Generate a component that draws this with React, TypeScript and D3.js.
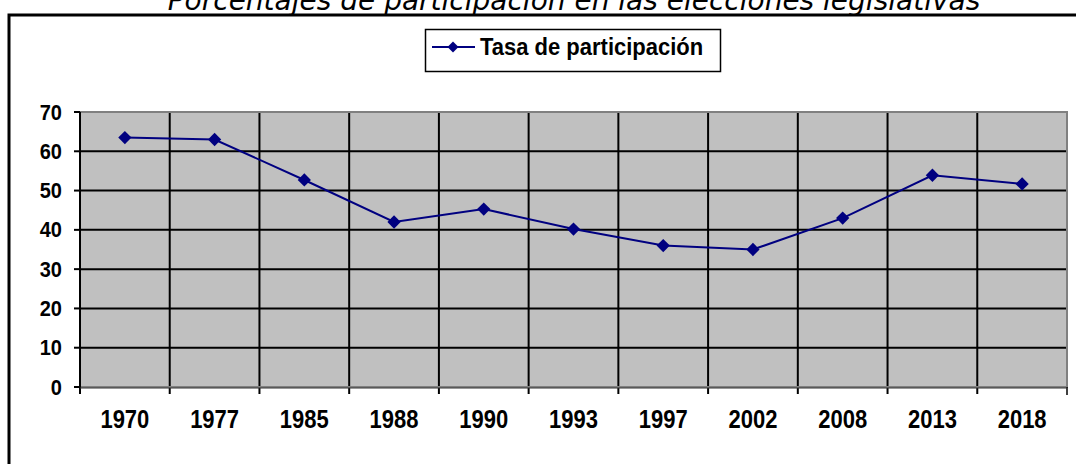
import React from 'react';
import * as d3 from 'd3';

const years = ['1970', '1977', '1985', '1988', '1990', '1993', '1997', '2002', '2008', '2013', '2018'];
const turnout = [63.5, 63.0, 52.7, 42.0, 45.3, 40.2, 36.0, 35.0, 43.0, 53.9, 51.7];
const yTicks = [0, 10, 20, 30, 40, 50, 60, 70];

const title = 'Porcentajes de participación en las elecciones legislativas';
const seriesName = 'Tasa de participación';

const W = 1076;
const H = 464;
const plot = { left: 80, right: 1067, top: 112, bottom: 387 };

export default function App() {
  // category bands along x, linear scale for percentage
  const x = d3.scaleBand<string>().domain(years).range([plot.left, plot.right]);
  const y = d3.scaleLinear().domain([0, 70]).range([plot.bottom, plot.top]);

  const line = d3
    .line<number>()
    .x((_, i) => (x(years[i]) as number) + x.bandwidth() / 2)
    .y((d) => y(d));

  const diamond = d3.symbol(d3.symbolSquare, 88)() as string;
  const legendDiamond = d3.symbol(d3.symbolSquare, 60)() as string;

  const bold = { fontFamily: '"Liberation Sans", Arial, sans-serif', fontWeight: 700 } as const;

  return (
    <svg
      width={W}
      height={H}
      viewBox={`0 0 ${W} ${H}`}
      style={{ position: 'absolute', left: 0, top: 0, background: '#fff' }}
    >
      {/* title, partly cut off at the top */}
      <text
        x={574}
        y={10}
        textAnchor="middle"
        fontFamily='"DejaVu Sans", Verdana, sans-serif'
        fontStyle="italic"
        fontSize={28}
        fill="#000"
      >
        {title}
      </text>

      {/* outer chart frame */}
      <rect x={9} y={15} width={1100} height={480} fill="none" stroke="#000" strokeWidth={3} />

      {/* legend */}
      <rect x={425.5} y={29.5} width={295} height={42} fill="#fff" stroke="#000" strokeWidth={1.5} />
      <line x1={432} x2={475} y1={47} y2={47} stroke="#000080" strokeWidth={2} />
      <path d={legendDiamond} transform="translate(453,47) rotate(45)" fill="#000080" />
      <text x={480} y={55} fontSize={22} {...bold} transform="translate(480,55) scale(1,1.12) translate(-480,-55)">
        {seriesName}
      </text>

      {/* plot area */}
      <rect
        x={plot.left}
        y={plot.top}
        width={plot.right - plot.left}
        height={plot.bottom - plot.top}
        fill="#c0c0c0"
      />

      {/* horizontal grid */}
      {yTicks.slice(1, -1).map((t) => (
        <line key={'h' + t} x1={plot.left} x2={plot.right} y1={y(t)} y2={y(t)} stroke="#000" strokeWidth={2} />
      ))}

      {/* vertical grid at band edges */}
      {years.slice(1).map((yr) => (
        <line
          key={'v' + yr}
          x1={x(yr) as number}
          x2={x(yr) as number}
          y1={plot.top}
          y2={plot.bottom + 7}
          stroke="#000"
          strokeWidth={2}
        />
      ))}

      {/* plot border */}
      <rect
        x={plot.left}
        y={plot.top}
        width={plot.right - plot.left}
        height={plot.bottom - plot.top}
        fill="none"
        stroke="#808080"
        strokeWidth={2}
      />
      <line x1={plot.right} x2={plot.right} y1={plot.bottom} y2={plot.bottom + 8} stroke="#000" strokeWidth={1.5} />

      {/* y axis */}
      <line x1={plot.left} x2={plot.left} y1={plot.top} y2={plot.bottom + 7} stroke="#000" strokeWidth={2} />
      {yTicks.map((t) => (
        <g key={'y' + t}>
          <line x1={plot.left - 6} x2={plot.left} y1={y(t)} y2={y(t)} stroke="#000" strokeWidth={2} />
          <text
            x={62}
            y={y(t) + 7}
            textAnchor="end"
            fontSize={20}
            {...bold}
            fill="#000"
            transform={`translate(62,${y(t)}) scale(1,1.08) translate(-62,${-y(t)})`}
          >
            {t}
          </text>
        </g>
      ))}
      <line x1={plot.left} x2={plot.right} y1={plot.bottom + 1} y2={plot.bottom + 1} stroke="#333" strokeWidth={1} />

      {/* x labels */}
      {years.map((yr) => {
        const cx = (x(yr) as number) + x.bandwidth() / 2;
        return (
          <text
            key={'x' + yr}
            x={cx}
            y={428}
            textAnchor="middle"
            fontSize={22}
            {...bold}
            fill="#000"
            transform={`translate(${cx},428) scale(1,1.15) translate(${-cx},-428)`}
          >
            {yr}
          </text>
        );
      })}

      {/* series */}
      <path d={line(turnout) as string} fill="none" stroke="#000080" strokeWidth={2} />
      {turnout.map((v, i) => (
        <path
          key={'m' + i}
          d={diamond}
          transform={`translate(${(x(years[i]) as number) + x.bandwidth() / 2},${y(v)}) rotate(45)`}
          fill="#000080"
        />
      ))}
    </svg>
  );
}
